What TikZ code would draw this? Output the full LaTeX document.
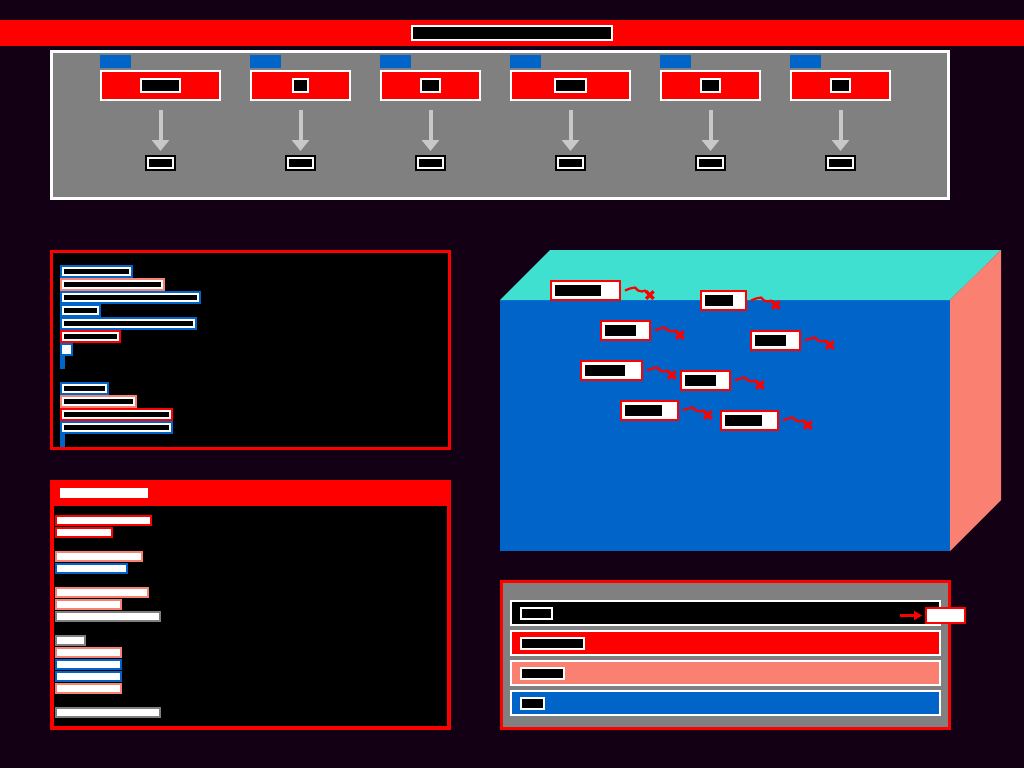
\documentclass[tikz,border=0pt]{standalone}
\usepackage{tikz}
\usetikzlibrary{arrows.meta,positioning,shapes.misc}
\definecolor{DarkInk}{HTML}{130014}
\definecolor{PureRed}{HTML}{FF0000}
\definecolor{DeepBlue}{HTML}{0064C8}
\definecolor{SoftSalmon}{HTML}{FA8072}
\definecolor{MidGray}{HTML}{808080}
\definecolor{LightSilver}{HTML}{C8C8C8}
\definecolor{SoftTeal}{HTML}{40E0D0}
\tikzset{
  every node/.style={inner sep=0pt,outer sep=0pt},
  panel/.style={draw=#1,line width=3pt,anchor=north west},
  stage/.style={draw=white,line width=2pt,fill=PureRed,minimum height=29pt,anchor=north west},
  tab/.style={fill=DeepBlue,minimum width=31pt,minimum height=13pt},
  tag/.style={draw=white,line width=2pt,fill=black,minimum height=13pt},
  outbox/.style={draw=white,line width=2pt,fill=black,minimum width=25pt,minimum height=10pt,
                 preaction={draw=black,line width=6pt}},
  drop/.style={-{Triangle[width=17pt,length=11pt]},line width=4pt,draw=LightSilver,
               shorten <=10pt,shorten >=7pt},
  leaf/.style={draw=white,line width=2pt,fill=black,minimum height=7pt,anchor=north west,
               preaction={draw=#1,line width=6pt}},
  stem/.style={draw=DeepBlue,line width=5pt},
  entry/.style={draw=#1,line width=2pt,fill=white,minimum height=9pt,anchor=north west},
  flag/.style={draw=PureRed,line width=2pt,fill=white,minimum height=19pt,anchor=north west},
  redact/.style={fill=black,minimum height=11pt},
  fail/.style={cross out,draw=PureRed,line width=3.2pt,minimum size=7.5pt},
  wiggle/.style={draw=PureRed,line width=2.2pt,line join=bevel},
  band/.style={draw=white,line width=2pt,fill=#1,minimum width=429pt,minimum height=24pt,anchor=north west},
  pointer/.style={-{Triangle[width=9pt,length=8pt]},line width=3.5pt,draw=PureRed,shorten >=4pt}
}

\begin{document}
\begin{tikzpicture}[x=1pt,y=-1pt]
  \useasboundingbox (0,0) rectangle (1024,768);
  \fill[DarkInk] (0,0) rectangle (1024,768);

  \node[fill=PureRed,minimum width=1024pt,minimum height=26pt,anchor=north west] (banner) at (0,20) {};
  \node[tag,minimum width=200pt,minimum height=14pt] (title) at (512,33) {};

  \node[panel=white,fill=MidGray,minimum width=897pt,minimum height=147pt] (pipeline) at (51.5,51.5) {};
  \foreach \i/\x/\w/\lw in {1/100/121/41,2/250/101/17,3/380/101/21,4/510/121/33,5/660/101/21,6/790/101/21}{
    \node[stage,minimum width={\w-2}] (stage\i) at (\x+1,71) {};
    \node[tag,minimum width={\lw-2}] (name\i) at (stage\i) {};
    \node[tab,above right=3pt and -1pt of stage\i.north west] (tab\i) {};
    \node[outbox,below=58pt of stage\i] (out\i) {};
    \draw[drop] (stage\i) -- (out\i);
  }

  \node[panel=PureRed,fill=black,minimum width=398pt,minimum height=197pt] (tree) at (51.5,251.5) {};
  \foreach \i/\y/\w/\col in {1/265/73/DeepBlue,2/278/105/SoftSalmon,3/291/141/DeepBlue,4/304/41/DeepBlue,
      5/317/137/DeepBlue,6/330/61/PureRed,8/382/49/DeepBlue,9/395/77/SoftSalmon,10/408/113/PureRed,11/421/113/DeepBlue}{
    \node[leaf=\col,minimum width={\w-6}] (leaf\i) at (63,\y+3) {};
  }
  \node[leaf=DeepBlue,fill=white,minimum width=7pt] (leaf7) at (63,346) {};
  \draw[stem] ([xshift=-0.5pt,yshift=-3pt]leaf7.south west) -- ++(0,13);
  \draw[stem] ([xshift=-0.5pt,yshift=-3pt]leaf11.south west) -- ++(0,13);

  \node[panel=PureRed,line width=4pt,fill=black,minimum width=397pt,minimum height=246pt] (files) at (52,482) {};
  \node[fill=PureRed,minimum width=401pt,minimum height=26pt,anchor=north west] (filehead) at (50,480) {};
  \node[fill=white,minimum width=88pt,minimum height=10pt,anchor=north west] (filetitle) at (60,488) {};
  \foreach \i/\y/\w/\col in {1/515/97/PureRed,2/527/58/PureRed,3/551/88/SoftSalmon,4/563/73/DeepBlue,
      5/587/94/SoftSalmon,6/599/67/SoftSalmon,7/611/106/MidGray,8/635/31/MidGray,9/647/67/SoftSalmon,
      10/659/67/DeepBlue,11/671/67/DeepBlue,12/683/67/SoftSalmon,13/707/106/MidGray}{
    \node[entry=\col,minimum width={\w-2}] (entry\i) at (56,\y+1) {};
  }

  \fill[DeepBlue] (500,300) rectangle (950,551);
  \fill[SoftTeal] (500,300) -- (550,250) -- (1001,250) -- (950,300) -- cycle;
  \fill[SoftSalmon] (950,300) -- (1001,250) -- (1001,500) -- (950,551) -- cycle;
  \foreach \i/\x/\y/\w/\lw in {1/550/280/71/46,2/700/290/47/28,3/600/320/51/31,4/750/330/51/31,
      5/580/360/63/40,6/680/370/51/31,7/620/400/59/37,8/720/410/59/37}{
    \node[flag,minimum width={\w-2}] (flag\i) at (\x+1,\y+1) {};
    \node[redact,minimum width=\lw pt,right=4pt of flag\i.west] (mark\i) {};
    \node[fail,right=26pt of flag\i.east,yshift=-4.5pt] (fail\i) {};
    \draw[wiggle] ([xshift=5pt]flag\i.east) -- ++(5,-2) -- ++(5,-1) -- ++(3,3) -- ++(4,1) -- ++(3,-1) -- (fail\i.center);
  }

  \node[panel=PureRed,fill=MidGray,minimum width=448pt,minimum height=147pt] (legend) at (501.5,581.5) {};
  \foreach \i/\y/\col/\lw in {1/600/black/33,2/630/PureRed/65,3/660/SoftSalmon/45,4/690/DeepBlue/25}{
    \node[band=\col] (band\i) at (511,\y+1) {};
    \node[tag,minimum width={\lw-2},minimum height=11pt,right=10pt of band\i.west] (key\i) {};
  }
  \node[draw=PureRed,line width=2pt,fill=white,minimum width=39pt,minimum height=15pt,anchor=north west] (overflow) at (926,608) {};
  \coordinate (ptr) at (900,615.5);
  \draw[pointer] (ptr) -- (overflow.west);
\end{tikzpicture}
\end{document}
